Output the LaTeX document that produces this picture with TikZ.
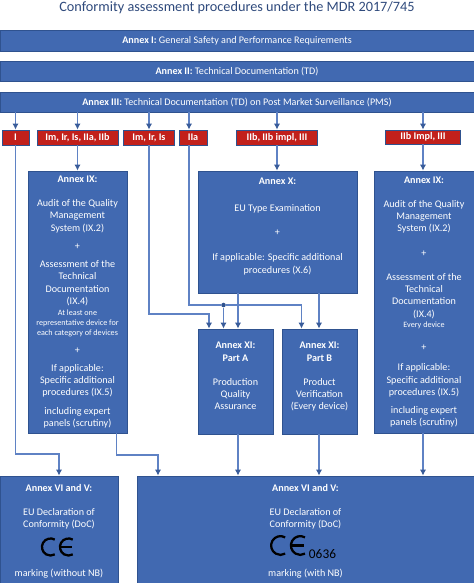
\documentclass[tikz,border=0pt]{standalone}
\usepackage{fontspec}
\setmainfont{Carlito}
\usetikzlibrary{arrows.meta}
\def\px{0.75pt}
\newcommand{\boxtxt}{\fontsize{7.6}{9.15}\selectfont}
\newcommand{\smalltxt}{\fontsize{6.1}{7.7}\selectfont}
\definecolor{boxblue}{HTML}{4169B1}
\definecolor{boxedge}{HTML}{2F528F}
\definecolor{linkblue}{HTML}{5F82C4}
\definecolor{classred}{HTML}{C2201B}
\definecolor{titleblue}{HTML}{2F4A7C}
\tikzset{
    annexbox/.style={draw=boxedge, fill=boxblue, line width=0.6pt, text=white, font=\boxtxt, align=center, inner sep=0pt},
    classbox/.style={draw=boxedge, fill=classred, line width=0.6pt, text=white, font=\boxtxt\bfseries, inner sep=0pt},
    link/.style={draw=linkblue, line width=0.85pt},
    arrowlink/.style={link, -{Latex[length=4.4pt,width=4.6pt,color=boxedge!80!linkblue]}},
    ce/.pic={
        \draw[black, line width=1.7pt] (60:6.4pt) arc[start angle=60, end angle=300, radius=6.4pt];
        \draw[black, line width=1.7pt] ([xshift=13.5pt]60:6.4pt) arc[start angle=60, end angle=300, radius=6.4pt];
        \draw[black, line width=1.7pt] (7.1pt,0) -- (16pt,0);
    }
}
\begin{document}
\begin{tikzpicture}[x=0.75pt, y=-0.75pt]
    \useasboundingbox (0,0) rectangle (474,583);
    % Title
    \node[text=titleblue, font=\fontsize{10.7}{12}\selectfont] (title) at (237,7.5) {Conformity assessment procedures under the MDR 2017/745};
    % Bands
    \node[annexbox, minimum width=474*\px, minimum height=21*\px] (annexI) at (237,40.5) {\textbf{Annex I:} General Safety and Performance Requirements};
    \node[annexbox, minimum width=474*\px, minimum height=20*\px] (annexII) at (237,71) {\textbf{Annex II:} Technical Documentation (TD)};
    \node[annexbox, minimum width=474*\px, minimum height=20*\px] (annexIII) at (237,102) {\textbf{Annex III:} Technical Documentation (TD) on Post Market Surveillance (PMS)};
    % Device classes
    \node[classbox, minimum width=27*\px, minimum height=15*\px] (classI) at (15.5,137.5) {I};
    \node[classbox, minimum width=81*\px, minimum height=15*\px] (classMix) at (77.5,137.5) {Im, Ir, Is, IIa, IIb};
    \node[classbox, minimum width=51*\px, minimum height=15*\px] (classIm) at (149,137.5) {Im, Ir, Is};
    \node[classbox, minimum width=28*\px, minimum height=15*\px] (classIIa) at (193,137.5) {IIa};
    \node[classbox, minimum width=81*\px, minimum height=15*\px] (classIIb) at (277,137.5) {IIb, IIb impl, III};
    \node[classbox, minimum width=75*\px, minimum height=14*\px] (classImpl) at (423,137) {IIb Impl, III};
    % Annex IX left
    \node[annexbox, minimum width=99*\px, minimum height=262*\px] (nineL) at (77.5,302) {\textbf{Annex IX:}\\[9pt]
        Audit of the Quality\\ Management\\ System (IX.2)\\[4.6pt] +\\[4.6pt]
        Assessment of the\\ Technical\\ Documentation\\ (IX.4)\\[-1pt]
        \smalltxt At least one\\[-1.45pt] \smalltxt representative device for\\[-1.45pt] \smalltxt each category of devices\\[4pt]
        +\\[4.6pt]
        If applicable:\\ Specific additional\\ procedures (IX.5)\\[4.6pt]
        including expert\\ panels (scrutiny)};
    % Annex X
    \node[annexbox, minimum width=159*\px, minimum height=122*\px] (annexX) at (277.5,232) {\textbf{Annex X:}\\[11pt]
        EU Type Examination\\[9pt] +\\[10pt]
        If applicable: Specific additional\\ procedures (X.6)\\[0.6pt]\mbox{}};
    % Annex IX right
    \node[annexbox, minimum width=100*\px, minimum height=262*\px] (nineR) at (424,302) {\textbf{Annex IX:}\\[9pt]
        Audit of the Quality\\ Management\\ System (IX.2)\\[9.15pt] +\\[9.15pt]
        Assessment of the\\ Technical\\ Documentation\\ (IX.4)\\[-1pt]
        \smalltxt Every device\\[7.5pt]
        +\\[6.5pt]
        If applicable:\\ Specific additional\\ procedures (IX.5)\\[4.6pt]
        including expert\\ panels (scrutiny)};
    % Annex XI
    \node[annexbox, minimum width=75*\px, minimum height=105*\px] (partA) at (235.5,381.5) {\textbf{Annex XI:}\\ \textbf{Part A}\\[9pt]
        Production\\ Quality\\ Assurance\\[-1pt]\mbox{}};
    \node[annexbox, minimum width=75*\px, minimum height=105*\px] (partB) at (319.5,381.5) {\textbf{Annex XI:}\\ \textbf{Part B}\\[9pt]
        Product\\ Verification\\ (Every device)\\[-1pt]\mbox{}};
    % Declarations
    \node[annexbox, minimum width=118*\px, minimum height=111*\px] (docNone) at (59,531.5) {\textbf{Annex VI and V:}\\[9pt]
        EU Declaration of\\ Conformity (DoC)\\[27.6pt]
        marking (without NB)};
    \node[annexbox, minimum width=337*\px, minimum height=111*\px] (docNB) at (305.5,531.5) {\textbf{Annex VI and V:}\\[9pt]
        EU Declaration of\\ Conformity (DoC)\\[27.6pt]
        marking (with NB)};
    \pic at (50.5,547) {ce};
    \pic[scale=1.1] at (280.5,545.5) {ce};
    \node[black, font=\fontsize{10}{11}\selectfont, inner sep=0pt] (nbnumber) at (322.5,554) {0636};
    % Helper points
    \coordinate (tapIIa) at (189,305);
    \coordinate (tapIm) at (209,314);
    \coordinate (tapB) at (301.5,305);
    \coordinate (outX) at (238,293);
    \coordinate (outXb) at (319,293);
    \coordinate (bendI) at (59,454);
    \coordinate (outNine) at (116.5,433);
    \coordinate (bendNine) at (158,455);
    \node[circle, fill=boxedge, inner sep=0pt, minimum size=3.4pt] (joint) at (223.5,305) {};
    % Bands to classes
    \foreach \c in {classI, classMix, classIm, classIIb, classImpl}
        \draw[arrowlink] (annexIII.south -| \c.north) -- (\c.north);
    \draw[arrowlink] (annexIII.south -| tapIIa) -- (classIIa.north -| tapIIa);
    % Classes to procedures
    \draw[arrowlink] (classMix.south) -- (nineL.north -| classMix.south);
    \draw[arrowlink] (classIIb.south) -- (annexX.north -| classIIb.south);
    \draw[arrowlink] (classImpl.south) -- (nineR.north -| classImpl.south);
    \draw[arrowlink] (classIm.south) |- (tapIm) -- (partA.north -| tapIm);
    \draw[link] (classIIa.south -| tapIIa) -- (tapIIa) -- (joint);
    \draw[arrowlink] (joint) -- (tapB) -- (partB.north -| tapB);
    \draw[arrowlink] (joint) -- (partA.north -| joint);
    \draw[arrowlink] (outX) -- (partA.north -| outX);
    \draw[arrowlink] (outXb) -- (partB.north -| outXb);
    % Down to declarations
    \draw[arrowlink] (classI.south) |- (bendI) -- (docNone.north -| bendI);
    \draw[arrowlink] (outNine) |- (bendNine) -- (docNB.north -| bendNine);
    \draw[arrowlink] (partA.south -| outX) -- (docNB.north -| outX);
    \draw[arrowlink] (partB.south -| outXb) -- (docNB.north -| outXb);
    \draw[arrowlink] (nineR.south -| classImpl.south) -- (docNB.north -| classImpl.south);
\end{tikzpicture}
\end{document}
